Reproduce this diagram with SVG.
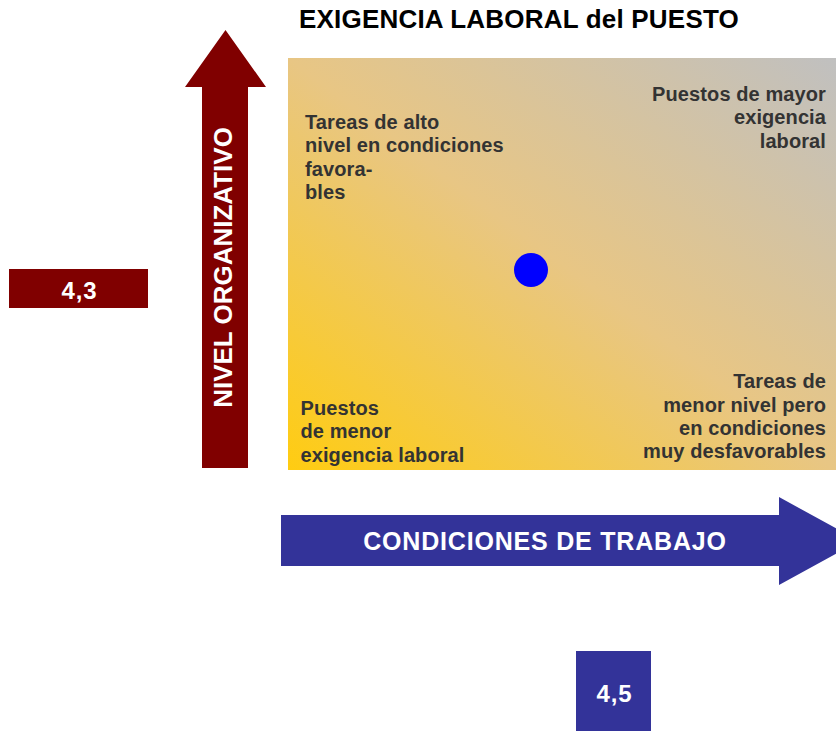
<svg xmlns="http://www.w3.org/2000/svg" width="836" height="731" viewBox="0 0 836 731">
  <defs>
    <linearGradient id="quadGrad" x1="0" y1="1" x2="1" y2="0">
      <stop offset="0" stop-color="#FFCC11"/>
      <stop offset="0.5" stop-color="#E8C684"/>
      <stop offset="1" stop-color="#C0C0C0"/>
    </linearGradient>
    <style>
      .title { font-family: "Liberation Sans", Arial, sans-serif; font-weight: bold; font-size: 26px; fill: #000000; letter-spacing: 0.2px; }
      .quad { font-family: "Liberation Sans", Arial, sans-serif; font-weight: bold; font-size: 20px; fill: #333333; letter-spacing: 0.1px; }
      .axis { font-family: "Liberation Sans", Arial, sans-serif; font-weight: bold; fill: #FFFFFF; }
      .red { fill: #800000; }
      .blue { fill: #333399; }
    </style>
  </defs>
  <rect width="836" height="731" fill="#FFFFFF"/>

  <g id="title">
    <text class="title" x="299" y="28">EXIGENCIA LABORAL del PUESTO</text>
  </g>

  <g id="matrix">
    <rect x="288" y="58" width="548" height="412" fill="url(#quadGrad)"/>
  </g>

  <g id="quadrant-top-left">
    <text class="quad" x="305" y="128.5">Tareas de alto</text>
    <text class="quad" x="305" y="152">nivel en condiciones</text>
    <text class="quad" x="305" y="175.5">favora-</text>
    <text class="quad" x="305" y="199">bles</text>
  </g>

  <g id="quadrant-top-right">
    <text class="quad" x="826" y="100.5" text-anchor="end">Puestos de mayor</text>
    <text class="quad" x="826" y="124" text-anchor="end">exigencia</text>
    <text class="quad" x="826" y="147.5" text-anchor="end">laboral</text>
  </g>

  <g id="quadrant-bottom-left">
    <text class="quad" x="300.5" y="414.5">Puestos</text>
    <text class="quad" x="300.5" y="438.3">de menor</text>
    <text class="quad" x="300.5" y="461.7">exigencia laboral</text>
  </g>

  <g id="quadrant-bottom-right">
    <text class="quad" x="826" y="388.3" text-anchor="end">Tareas de</text>
    <text class="quad" x="826" y="411.7" text-anchor="end">menor nivel pero</text>
    <text class="quad" x="826" y="435" text-anchor="end">en condiciones</text>
    <text class="quad" x="826" y="457.7" text-anchor="end">muy desfavorables</text>
  </g>

  <g id="position-marker">
    <circle cx="531" cy="270" r="17" fill="#0000FF"/>
  </g>

  <g id="connectors">
    <g id="axis-nivel-organizativo">
      <polygon class="red" points="202,468 202,87 185,87 225.5,30 266,87 248,87 248,468"/>
      <text class="axis" font-size="26" x="0" y="0" text-anchor="middle" transform="translate(231.5,267.5) rotate(-90)">NIVEL ORGANIZATIVO</text>
    </g>
    <g id="axis-condiciones-trabajo">
      <polygon class="blue" points="281,515 779,515 779,497 859,541 779,585 779,566 281,566"/>
      <text class="axis" font-size="25" x="545" y="549.5" text-anchor="middle" letter-spacing="0.8">CONDICIONES DE TRABAJO</text>
    </g>
  </g>

  <g id="value-nivel">
    <rect class="red" x="9" y="269" width="139" height="39"/>
    <text class="axis" font-size="24" x="79.5" y="298.5" text-anchor="middle" letter-spacing="0.8">4,3</text>
  </g>

  <g id="value-condiciones">
    <rect class="blue" x="576" y="651" width="75" height="80"/>
    <text class="axis" font-size="24" x="614.5" y="701.7" text-anchor="middle" letter-spacing="0.8">4,5</text>
  </g>
</svg>
